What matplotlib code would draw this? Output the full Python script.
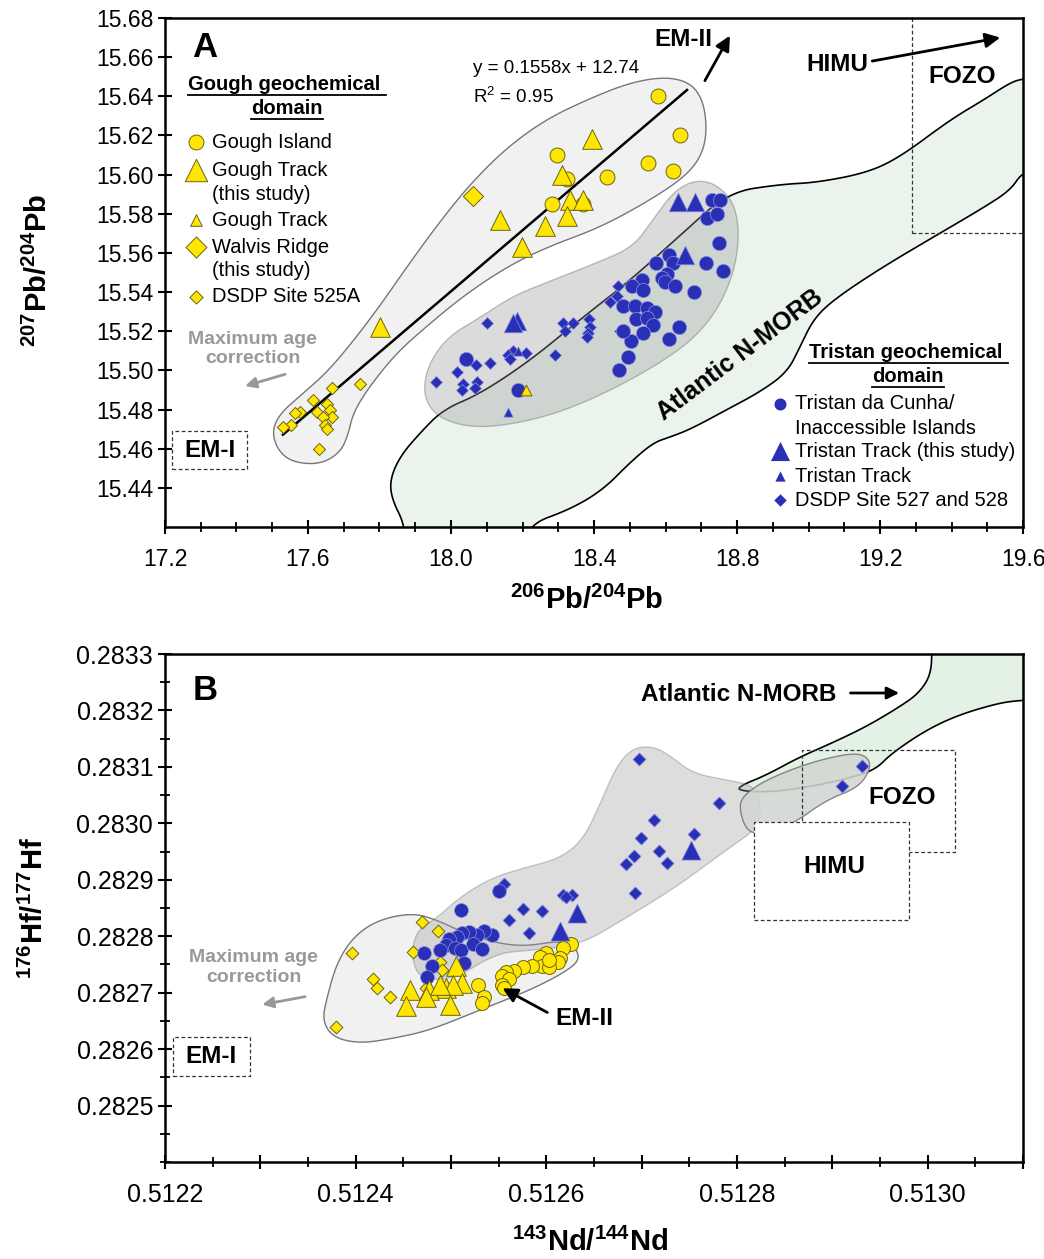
import numpy as np
import matplotlib
matplotlib.use('Agg')
import matplotlib.pyplot as plt
from matplotlib.patches import Polygon, Rectangle
from matplotlib.lines import Line2D
from matplotlib.ticker import FixedLocator, FuncFormatter

plt.rcParams['font.family'] = ['Liberation Sans', 'DejaVu Sans']
plt.rcParams['mathtext.fontset'] = 'custom'
plt.rcParams['mathtext.rm'] = 'Liberation Sans'
plt.rcParams['mathtext.bf'] = 'Liberation Sans:bold'

YEL = '#FFE600'
YEL_EDGE = '#6b6412'
BLUE = '#2a30b5'
BLUE_EDGE = '#8a90e0'

# ---------------- panel A: 206Pb/204Pb vs 207Pb/204Pb ----------------
a_gi_x = [18.579, 18.641, 18.551, 18.621, 18.436, 18.297, 18.324, 18.282, 18.369]
a_gi_y = [15.640, 15.620, 15.606, 15.602, 15.599, 15.610, 15.598, 15.585, 15.585]
a_gt_x = [18.394, 18.310, 18.333, 18.369, 18.324, 18.263, 18.137, 18.199, 17.801]
a_gt_y = [15.618, 15.600, 15.587, 15.587, 15.579, 15.574, 15.577, 15.563, 15.522]
a_gts_x = [18.210]
a_gts_y = [15.490]
a_wr_x = [18.062]
a_wr_y = [15.589]
a_525_x = [17.667, 17.745, 17.614, 17.653, 17.578, 17.564, 17.625, 17.662, 17.667,
           17.642, 17.648, 17.653, 17.552, 17.530, 17.631]
a_525_y = [15.491, 15.493, 15.485, 15.483, 15.479, 15.478, 15.479, 15.480, 15.476,
           15.476, 15.472, 15.470, 15.472, 15.471, 15.460]
a_tc_x = [18.730, 18.752, 18.716, 18.744, 18.750, 18.573, 18.610, 18.621, 18.713, 18.761,
          18.604, 18.590, 18.599, 18.627, 18.680, 18.534, 18.506, 18.537, 18.481, 18.515,
          18.548, 18.571, 18.517, 18.548, 18.565, 18.638, 18.610, 18.537, 18.504, 18.495,
          18.470, 18.481, 18.042, 18.187]
a_tc_y = [15.587, 15.587, 15.578, 15.580, 15.565, 15.555, 15.559, 15.555, 15.555, 15.551,
          15.549, 15.547, 15.545, 15.543, 15.540, 15.546, 15.543, 15.541, 15.533, 15.533,
          15.532, 15.530, 15.526, 15.527, 15.523, 15.522, 15.516, 15.519, 15.515, 15.507,
          15.500, 15.520, 15.506, 15.490]
a_tt_x = [18.635, 18.683, 18.655, 18.185, 18.173]
a_tt_y = [15.586, 15.586, 15.559, 15.525, 15.524]
a_tts_x = [18.159, 18.187]
a_tts_y = [15.479, 15.510]
a_527_x = [18.101, 18.313, 18.341, 18.386, 18.319, 18.389, 18.383, 18.380, 18.467, 18.464,
           18.445, 18.473, 18.291, 18.210, 18.173, 18.159, 18.165, 18.109, 18.070, 18.017,
           17.958, 18.073, 18.067, 18.034, 18.031]
a_527_y = [15.524, 15.524, 15.524, 15.526, 15.520, 15.522, 15.519, 15.517, 15.543, 15.538,
           15.535, 15.520, 15.508, 15.509, 15.510, 15.508, 15.506, 15.504, 15.503, 15.499,
           15.494, 15.494, 15.491, 15.493, 15.490]
fit_slope, fit_icpt = 0.1558, 12.736
fit_x = [17.53, 18.66]

a_gough_fx = [17.558, 17.516, 17.499, 17.522, 17.578, 17.653, 17.731, 17.801, 17.885, 17.969,
              18.053, 18.151, 18.263, 18.389, 18.501, 18.599, 18.669, 18.705, 18.716, 18.702,
              18.655, 18.557, 18.417, 18.269, 18.157, 18.034, 17.922, 17.843, 17.765, 17.726,
              17.712, 17.690, 17.634]
a_gough_fy = [15.453, 15.459, 15.469, 15.478, 15.487, 15.499, 15.516, 15.533, 15.555, 15.576,
              15.595, 15.613, 15.628, 15.639, 15.647, 15.650, 15.647, 15.638, 15.623, 15.610,
              15.599, 15.587, 15.573, 15.563, 15.553, 15.538, 15.521, 15.508, 15.490, 15.478,
              15.467, 15.458, 15.452]
a_trist_fx = [17.922, 17.969, 18.081, 18.269, 18.453, 18.641, 18.733, 18.789, 18.808, 18.789,
              18.733, 18.677, 18.621, 18.565, 18.509, 18.408, 18.269, 18.173, 18.081, 17.989,
              17.933]
a_trist_fy = [15.486, 15.475, 15.470, 15.476, 15.490, 15.510, 15.527, 15.548, 15.570, 15.587,
              15.596, 15.597, 15.591, 15.577, 15.563, 15.555, 15.545, 15.538, 15.527, 15.517,
              15.502]
a_morb_fx = [17.871, 17.835, 17.829, 17.857, 17.913, 17.978, 18.081, 18.221, 18.361, 18.501,
             18.641, 18.775, 18.920, 19.024, 19.164, 19.256, 19.396, 19.488, 19.564, 19.600,
             19.640, 19.640, 19.597, 19.564, 19.488, 19.348, 19.200, 19.069, 19.013, 18.976,
             18.940, 18.864, 18.772, 18.670, 18.613, 18.565, 18.501, 18.425, 18.333, 18.213,
             18.213, 17.871]
a_morb_fy = [15.421, 15.434, 15.444, 15.456, 15.468, 15.480, 15.488, 15.505, 15.526, 15.546,
             15.569, 15.591, 15.595, 15.596, 15.601, 15.609, 15.628, 15.638, 15.647, 15.649,
             15.649, 15.602, 15.601, 15.592, 15.583, 15.568, 15.552, 15.536, 15.526, 15.512,
             15.499, 15.489, 15.480, 15.470, 15.466, 15.463, 15.453, 15.439, 15.429, 15.421,
             15.405, 15.405]

# ---------------- panel B: 143Nd/144Nd vs 176Hf/177Hf ----------------
b_gi_x = [0.512621, 0.512626, 0.512617, 0.512614, 0.512612, 0.512600, 0.512593, 0.512595,
          0.512603, 0.512585, 0.512575, 0.512566, 0.512558, 0.512553, 0.512561, 0.512554,
          0.512556, 0.512528, 0.512535, 0.512532, 0.512603]
b_gi_y = [0.282787, 0.282787, 0.282779, 0.282761, 0.282754, 0.282770, 0.282763, 0.282748,
          0.282745, 0.282748, 0.282745, 0.282738, 0.282736, 0.282729, 0.282725, 0.282713,
          0.282709, 0.282713, 0.282692, 0.282681, 0.282758]
b_gt_x = [0.512505, 0.512512, 0.512495, 0.512502, 0.512477, 0.512457, 0.512474, 0.512453,
          0.512499, 0.512488]
b_gt_y = [0.282748, 0.282718, 0.282709, 0.282713, 0.282704, 0.282704, 0.282692, 0.282677,
          0.282679, 0.282713]
b_525_x = [0.512470, 0.512486, 0.512460, 0.512488, 0.512491, 0.512396, 0.512418, 0.512422,
           0.512436, 0.512379, 0.512474]
b_525_y = [0.282825, 0.282809, 0.282773, 0.282755, 0.282741, 0.282770, 0.282725, 0.282709,
           0.282692, 0.282640, 0.282709]
b_tc_x = [0.512550, 0.512510, 0.512543, 0.512535, 0.512527, 0.512519, 0.512512, 0.512506,
          0.512498, 0.512495, 0.512504, 0.512511, 0.512523, 0.512532, 0.512514, 0.512472,
          0.512480, 0.512475, 0.512488]
b_tc_y = [0.282881, 0.282846, 0.282802, 0.282810, 0.282802, 0.282807, 0.282805, 0.282798,
          0.282796, 0.282784, 0.282779, 0.282775, 0.282787, 0.282777, 0.282752, 0.282770,
          0.282747, 0.282727, 0.282775]
b_tt_x = [0.512752, 0.512632, 0.512614]
b_tt_y = [0.282952, 0.282842, 0.282810]
b_527_x = [0.512697, 0.512781, 0.512713, 0.512699, 0.512692, 0.512684, 0.512718, 0.512726,
           0.512755, 0.512693, 0.512910, 0.512931, 0.512627, 0.512617, 0.512621, 0.512556,
           0.512575, 0.512595, 0.512561, 0.512582]
b_527_y = [0.283114, 0.283036, 0.283006, 0.282974, 0.282943, 0.282928, 0.282951, 0.282929,
           0.282981, 0.282876, 0.283066, 0.283101, 0.282874, 0.282873, 0.282869, 0.282892,
           0.282849, 0.282844, 0.282828, 0.282805]

b_gough_fx = [0.512365, 0.512370, 0.512380, 0.512397, 0.512422, 0.512457, 0.512481, 0.512519,
              0.512569, 0.512617, 0.512631, 0.512635, 0.512617, 0.512582, 0.512530, 0.512477,
              0.512439, 0.512404, 0.512376]
b_gough_fy = [0.282651, 0.282692, 0.282752, 0.282798, 0.282828, 0.282841, 0.282832, 0.282802,
              0.282780, 0.282793, 0.282780, 0.282757, 0.282734, 0.282704, 0.282669, 0.282633,
              0.282619, 0.282610, 0.282621]
b_trist_fx = [0.512460, 0.512460, 0.512467, 0.512485, 0.512509, 0.512543, 0.512579, 0.512614,
              0.512638, 0.512655, 0.512673, 0.512690, 0.512711, 0.512729, 0.512753, 0.512788,
              0.512816, 0.512825, 0.512823, 0.512788, 0.512736, 0.512684, 0.512635, 0.512582,
              0.512548, 0.512506, 0.512477, 0.512465]
b_trist_fy = [0.282757, 0.282787, 0.282814, 0.282832, 0.282869, 0.282904, 0.282922, 0.282938,
              0.282970, 0.283029, 0.283100, 0.283133, 0.283137, 0.283121, 0.283089, 0.283077,
              0.283068, 0.283041, 0.282993, 0.282952, 0.282887, 0.282833, 0.282784, 0.282775,
              0.282770, 0.282727, 0.282722, 0.282734]
b_lobe_fx = [0.512809, 0.512823, 0.512858, 0.512893, 0.512928, 0.512941, 0.512935, 0.512917,
             0.512875, 0.512830, 0.512807, 0.512802]
b_lobe_fy = [0.282989, 0.282980, 0.282998, 0.283041, 0.283064, 0.283100, 0.283121, 0.283124,
             0.283107, 0.283077, 0.283050, 0.283029]
b_morb_fx = [0.513004, 0.513004, 0.512991, 0.512970, 0.512935, 0.512899, 0.512865, 0.512830,
             0.512805, 0.512800, 0.512835, 0.512880, 0.512917, 0.512945, 0.512962, 0.512998,
             0.513032, 0.513074, 0.513097, 0.513110, 0.513110]
b_morb_fy = [0.283320, 0.283266, 0.283231, 0.283206, 0.283171, 0.283142, 0.283117, 0.283085,
             0.283068, 0.283058, 0.283055, 0.283066, 0.283080, 0.283095, 0.283124, 0.283165,
             0.283192, 0.283213, 0.283218, 0.283218, 0.283320]


def smooth(xs, ys, n=4):
    p = np.column_stack([xs, ys]).astype(float)
    for _ in range(n):
        q = np.roll(p, -1, axis=0)
        new = np.empty((2 * len(p), 2))
        new[0::2] = 0.75 * p + 0.25 * q
        new[1::2] = 0.25 * p + 0.75 * q
        p = new
    return p


def field(ax, xs, ys, fc, ec, alpha=1.0, z=1, lw=1.0):
    ax.add_patch(Polygon(smooth(xs, ys), closed=True, facecolor=fc, edgecolor=ec,
                         lw=lw, alpha=alpha, zorder=z))


def arrow(ax, start, end, color='black', lw=2.0, ms=22):
    ax.annotate('', xy=end, xytext=start,
                arrowprops=dict(arrowstyle='-|>', color=color, lw=lw, mutation_scale=ms,
                                shrinkA=0, shrinkB=0), zorder=6)


fig = plt.figure(figsize=(10.44, 12.59), dpi=100)
axA = fig.add_axes([0.158, 0.5814, 0.822, 0.4043])
axB = fig.add_axes([0.158, 0.0770, 0.822, 0.4035])

# ---------- panel A ----------
ax = axA
field(ax, a_morb_fx, a_morb_fy, '#ebf4ec', 'black', z=1, lw=1.2)
field(ax, a_gough_fx, a_gough_fy, '#f1f1f1', '#777777', z=1.2, lw=1.0)
field(ax, a_trist_fx, a_trist_fy, '#9a9a9a', '#555555', alpha=0.35, z=1.5, lw=1.0)
fx = np.array(fit_x)
ax.plot(fx, fit_slope * fx + fit_icpt, color='black', lw=1.8, zorder=2)

ax.scatter(a_525_x, a_525_y, marker='D', s=38, c=YEL, edgecolors=YEL_EDGE, linewidths=0.7, zorder=3)
ax.scatter(a_wr_x, a_wr_y, marker='D', s=105, c=YEL, edgecolors=YEL_EDGE, linewidths=0.7, zorder=3)
ax.scatter(a_gi_x, a_gi_y, marker='o', s=115, c=YEL, edgecolors=YEL_EDGE, linewidths=0.7, zorder=3)
ax.scatter(a_gt_x, a_gt_y, marker='^', s=200, c=YEL, edgecolors=YEL_EDGE, linewidths=0.7, zorder=3.1)
ax.scatter(a_527_x, a_527_y, marker='D', s=38, c=BLUE, edgecolors=BLUE_EDGE, linewidths=0.5, zorder=3)
ax.scatter(a_tc_x, a_tc_y, marker='o', s=105, c=BLUE, edgecolors=BLUE_EDGE, linewidths=0.5, zorder=3)
ax.scatter(a_tt_x, a_tt_y, marker='^', s=180, c=BLUE, edgecolors=BLUE_EDGE, linewidths=0.5, zorder=3.1)
ax.scatter(a_tts_x, a_tts_y, marker='^', s=45, c=BLUE, edgecolors=BLUE_EDGE, linewidths=0.5, zorder=3.1)
ax.scatter(a_gts_x, a_gts_y, marker='^', s=60, c=YEL, edgecolors=YEL_EDGE, linewidths=0.7, zorder=3.2)

ax.add_patch(Rectangle((19.289, 15.570), 0.4, 0.2, fill=False, ls=(0, (3, 2)), lw=0.9,
                       edgecolor='#333333', zorder=2.5))
ax.add_patch(Rectangle((17.220, 15.4496), 0.209, 0.0193, fill=False, ls=(0, (3, 2)), lw=0.9,
                       edgecolor='#333333', zorder=2.5))

ax.text(17.312, 15.665, 'A', fontsize=25, fontweight='bold', ha='center', va='center')
ax.text(18.062, 15.654, 'y = 0.1558x + 12.74', fontsize=13.5, ha='left', va='center')
ax.text(18.062, 15.640, 'R$^2$ = 0.95', fontsize=13.5, ha='left', va='center')
ax.text(18.649, 15.669, 'EM-II', fontsize=17.5, fontweight='bold', ha='center', va='center')
arrow(ax, (18.710, 15.648), (18.780, 15.671))
ax.text(19.080, 15.656, 'HIMU', fontsize=17.5, fontweight='bold', ha='center', va='center')
arrow(ax, (19.178, 15.658), (19.536, 15.670))
ax.text(19.429, 15.650, 'FOZO', fontsize=17.5, fontweight='bold', ha='center', va='center')
ax.text(17.326, 15.459, 'EM-I', fontsize=17.5, fontweight='bold', ha='center', va='center')
ax.text(18.808, 15.508, 'Atlantic N-MORB', fontsize=18, fontweight='bold', ha='center',
        va='center', rotation=37, zorder=5)
ax.text(17.446, 15.511, 'Maximum age\ncorrection', fontsize=14, fontweight='bold', color='#999999',
        ha='center', va='center', linespacing=1.2)
arrow(ax, (17.536, 15.498), (17.424, 15.492), color='#999999', lw=2, ms=16)

# legend A (axes fraction)
T = ax.transAxes
h1 = ax.text(0.142, 0.869, 'Gough geochemical ', transform=T, fontsize=14.5, fontweight='bold',
             ha='center', va='center')
h2 = ax.text(0.142, 0.822, 'domain', transform=T, fontsize=14.5, fontweight='bold',
             ha='center', va='center')
lx, tx = 0.036, 0.055
ax.scatter([lx], [0.756], transform=T, marker='o', s=115, c=YEL, edgecolors=YEL_EDGE, linewidths=0.7)
ax.scatter([lx], [0.701], transform=T, marker='^', s=260, c=YEL, edgecolors=YEL_EDGE, linewidths=0.7)
ax.scatter([lx], [0.603], transform=T, marker='^', s=70, c=YEL, edgecolors=YEL_EDGE, linewidths=0.7)
ax.scatter([lx], [0.550], transform=T, marker='D', s=115, c=YEL, edgecolors=YEL_EDGE, linewidths=0.7)
ax.scatter([lx], [0.452], transform=T, marker='D', s=45, c=YEL, edgecolors=YEL_EDGE, linewidths=0.7)
for yy, s in [(0.756, 'Gough Island'), (0.701, 'Gough Track'), (0.654, '(this study)'),
              (0.603, 'Gough Track'), (0.550, 'Walvis Ridge'), (0.503, '(this study)'),
              (0.452, 'DSDP Site 525A')]:
    ax.text(tx, yy, s, transform=T, fontsize=14.5, ha='left', va='center')

h3 = ax.text(0.866, 0.342, 'Tristan geochemical ', transform=T, fontsize=14.5, fontweight='bold',
             ha='center', va='center')
h4 = ax.text(0.866, 0.295, 'domain', transform=T, fontsize=14.5, fontweight='bold',
             ha='center', va='center')
lx2, tx2 = 0.717, 0.734
ax.scatter([lx2], [0.242], transform=T, marker='o', s=75, c=BLUE, linewidths=0)
ax.scatter([lx2], [0.149], transform=T, marker='^', s=190, c=BLUE, linewidths=0)
ax.scatter([lx2], [0.100], transform=T, marker='^', s=55, c=BLUE, linewidths=0)
ax.scatter([lx2], [0.053], transform=T, marker='D', s=40, c=BLUE, linewidths=0)
for yy, s in [(0.242, 'Tristan da Cunha/'), (0.194, 'Inaccessible Islands'),
              (0.149, 'Tristan Track (this study)'), (0.100, 'Tristan Track'),
              (0.053, 'DSDP Site 527 and 528')]:
    ax.text(tx2, yy, s, transform=T, fontsize=14.5, ha='left', va='center')

ax.set_xlim(17.2, 19.6)
ax.set_ylim(15.42, 15.68)
ax.xaxis.set_major_locator(FixedLocator(np.round(np.arange(17.2, 19.61, 0.4), 1)))
ax.xaxis.set_minor_locator(FixedLocator(np.round(np.arange(17.2, 19.61, 0.1), 1)))
ax.xaxis.set_major_formatter(FuncFormatter(lambda v, p: '%.1f' % v))
ax.yaxis.set_major_locator(FixedLocator(np.round(np.arange(15.44, 15.681, 0.02), 2)))
ax.yaxis.set_major_formatter(FuncFormatter(lambda v, p: '%.2f' % v))
ax.tick_params(axis='both', which='major', direction='inout', length=10, width=1.5, labelsize=16.5)
ax.tick_params(axis='both', which='minor', direction='inout', length=7, width=1.3)
ax.tick_params(axis='x', pad=10)
ax.set_xlabel('$^{\\mathbf{206}}$Pb/$^{\\mathbf{204}}$Pb', fontsize=21, fontweight='bold')
ax.set_ylabel('$^{\\mathbf{207}}$Pb/$^{\\mathbf{204}}$Pb', fontsize=21, fontweight='bold')
ax.xaxis.set_label_coords(0.492, -0.115)
ax.yaxis.set_label_coords(-0.13, 0.505)
for sp in ax.spines.values():
    sp.set_linewidth(1.8)

# ---------- panel B ----------
ax = axB
field(ax, b_morb_fx, b_morb_fy, '#e3f2e5', 'black', z=1, lw=1.2)
field(ax, b_gough_fx, b_gough_fy, '#f1f1f1', '#777777', z=1.2, lw=1.0)
field(ax, b_trist_fx, b_trist_fy, '#9a9a9a', '#666666', alpha=0.33, z=1.5, lw=1.0)
field(ax, b_lobe_fx, b_lobe_fy, '#d2d6d2', '#777777', alpha=0.88, z=1.6, lw=1.0)

ax.add_patch(Rectangle((0.512868, 0.282949), 0.000161, 0.000181, fill=False, ls=(0, (3, 2)),
                       lw=0.9, edgecolor='#333333', zorder=2.5))
ax.add_patch(Rectangle((0.512818, 0.282828), 0.000162, 0.000174, facecolor='white', ls=(0, (3, 2)),
                       lw=0.9, edgecolor='#333333', zorder=2.6))
ax.add_patch(Rectangle((0.512208, 0.282553), 0.000081, 0.000068, fill=False, ls=(0, (3, 2)),
                       lw=0.9, edgecolor='#333333', zorder=2.5))

ax.scatter(b_525_x, b_525_y, marker='D', s=42, c=YEL, edgecolors=YEL_EDGE, linewidths=0.7, zorder=3)
ax.scatter(b_tc_x, b_tc_y, marker='o', s=100, c=BLUE, edgecolors=BLUE_EDGE, linewidths=0.5, zorder=3.05)
ax.scatter(b_gi_x, b_gi_y, marker='o', s=100, c=YEL, edgecolors=YEL_EDGE, linewidths=0.7, zorder=3)
ax.scatter(b_gt_x, b_gt_y, marker='^', s=200, c=YEL, edgecolors=YEL_EDGE, linewidths=0.7, zorder=3.1)
ax.scatter(b_527_x, b_527_y, marker='D', s=44, c=BLUE, edgecolors=BLUE_EDGE, linewidths=0.5, zorder=3)
ax.scatter(b_tt_x, b_tt_y, marker='^', s=190, c=BLUE, edgecolors=BLUE_EDGE, linewidths=0.5, zorder=3.1)

ax.text(0.512242, 0.283236, 'B', fontsize=25, fontweight='bold', ha='center', va='center')
ax.text(0.512802, 0.283229, 'Atlantic N-MORB', fontsize=17.5, fontweight='bold', ha='center', va='center')
arrow(ax, (0.512919, 0.283231), (0.512970, 0.283231), ms=18)
ax.text(0.512973, 0.283046, 'FOZO', fontsize=17.5, fontweight='bold', ha='center', va='center', zorder=5)
ax.text(0.512902, 0.282924, 'HIMU', fontsize=17.5, fontweight='bold', ha='center', va='center', zorder=5)
ax.text(0.512640, 0.282654, 'EM-II', fontsize=17.5, fontweight='bold', ha='center', va='center')
arrow(ax, (0.512601, 0.282665), (0.512554, 0.282708))
ax.text(0.512248, 0.282587, 'EM-I', fontsize=17.5, fontweight='bold', ha='center', va='center')
ax.text(0.512293, 0.282745, 'Maximum age\ncorrection', fontsize=14, fontweight='bold', color='#999999',
        ha='center', va='center', linespacing=1.2)
arrow(ax, (0.512347, 0.282693), (0.512302, 0.282679), color='#999999', lw=2, ms=16)

ax.set_xlim(0.5122, 0.5131)
ax.set_ylim(0.2824, 0.2833)
xt = np.round(np.arange(0.5122, 0.51311, 0.0001), 4)
ax.xaxis.set_major_locator(FixedLocator(xt))
ax.xaxis.set_minor_locator(FixedLocator(np.round(np.arange(0.5122, 0.51311, 0.00005), 5)))
ax.xaxis.set_major_formatter(FuncFormatter(
    lambda v, p: '%.4f' % v if round(v * 1e4) % 2 == 0 else ''))
ax.yaxis.set_major_locator(FixedLocator(np.round(np.arange(0.2825, 0.28331, 0.0001), 4)))
ax.yaxis.set_minor_locator(FixedLocator(np.round(np.arange(0.2824, 0.28331, 0.00005), 5)))
ax.yaxis.set_major_formatter(FuncFormatter(lambda v, p: '%.4f' % v))
ax.tick_params(axis='both', which='major', direction='inout', length=10, width=1.5, labelsize=18)
ax.tick_params(axis='both', which='minor', direction='inout', length=7, width=1.3)
ax.tick_params(axis='x', pad=10)
ax.set_xlabel('$^{\\mathbf{143}}$Nd/$^{\\mathbf{144}}$Nd', fontsize=21, fontweight='bold')
ax.set_ylabel('$^{\\mathbf{176}}$Hf/$^{\\mathbf{177}}$Hf', fontsize=21, fontweight='bold')
ax.xaxis.set_label_coords(0.495, -0.13)
ax.yaxis.set_label_coords(-0.135, 0.5)
for sp in ax.spines.values():
    sp.set_linewidth(1.8)

# underline the legend headers
fig.canvas.draw()
inv = fig.transFigure.inverted()
for t in (h1, h2, h3, h4):
    bb = t.get_window_extent()
    (x0, y0), (x1, _) = inv.transform([[bb.x0, bb.y0], [bb.x1, bb.y0]])
    fig.add_artist(Line2D([x0, x1], [y0 - 0.0006, y0 - 0.0006], color='black', lw=1.3))

fig.savefig('out.png', dpi=100)
